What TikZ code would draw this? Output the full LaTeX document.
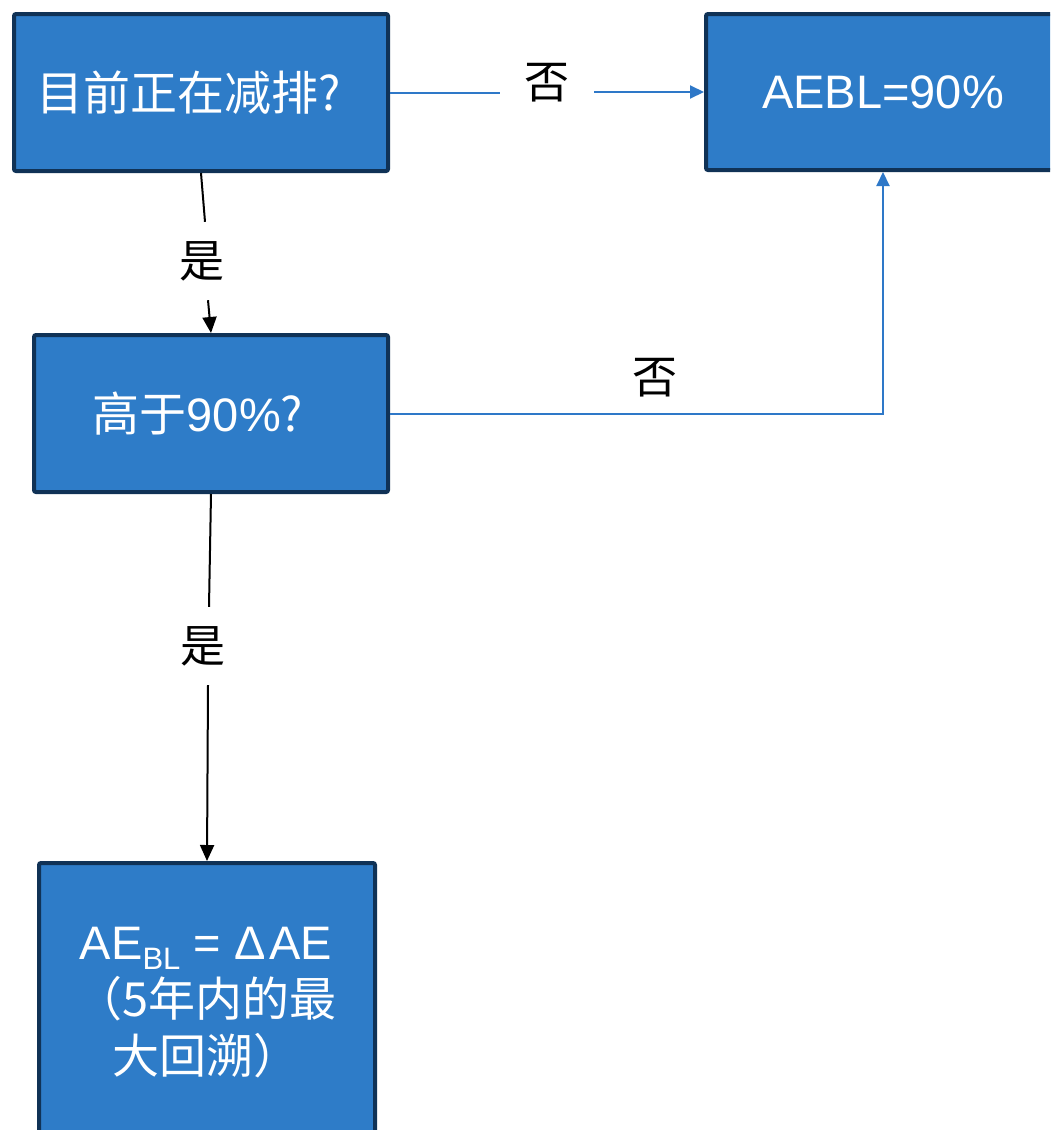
\documentclass[tikz,border=0pt]{standalone}
\usepackage{fontspec}
\setmainfont{Liberation Sans}
\newfontfamily\cjk{Noto Sans CJK SC}
\usetikzlibrary{arrows.meta}
\definecolor{boxfill}{RGB}{46,124,200}
\definecolor{boxline}{RGB}{16,50,86}
\definecolor{linkblue}{RGB}{46,120,200}
\tikzset{
  box/.style={rectangle, rounded corners=2pt, draw=boxline, line width=4pt, fill=boxfill,
    text=white, align=center, inner sep=0pt},
  boxtxt/.style={font=\cjk\fontsize{47}{57}\selectfont},
  lab/.style={font=\cjk\fontsize{45}{45}\selectfont, text=black, inner sep=0pt},
  blk/.style={line width=2pt, draw=black},
  blu/.style={line width=2pt, draw=linkblue},
  tipk/.style={-{Triangle[width=14pt,length=16pt]}},
  tipb/.style={-{Triangle[width=13pt,length=14pt]}}
}
\begin{document}
\begin{tikzpicture}[x=1pt,y=-1pt]
\useasboundingbox (0,0) rectangle (1050,1130);
\clip (0,0) rectangle (1050,1130);
\fill[white] (0,0) rectangle (1050,1130);
% boxes
\node[box, boxtxt, minimum width=374pt, minimum height=157pt] (b1) at (201,92.5) {目前正在减排?\kern24pt};
\node[box, minimum width=354pt, minimum height=156pt, font=\fontsize{47}{47}\selectfont] (b2) at (883,92) {AEBL=90\%};
\node[box, boxtxt, minimum width=354pt, minimum height=157pt] (b3) at (211,413.5) {高于{\rmfamily 90\%}?\kern26pt};
\node[box, minimum width=336pt, minimum height=330pt, anchor=north] (b4) at (207,861) {};
\node[text=white, align=center, inner sep=0pt, font=\fontsize{47}{57}\selectfont] (t4) at (206,1003)
  {AE\raisebox{-10pt}{\fontsize{31}{31}\selectfont BL} = Δ\kern4pt AE\\
   {\cjk （5年内的最}\\
   {\cjk 大回溯）}};
% labels
\node[lab, minimum width=94pt] (l1) at (547,83) {否};
\node[lab, minimum height=78pt] (l2) at (202,261) {是};
\node[lab] (l3) at (655,378) {否};
\node[lab, minimum height=78pt] (l4) at (203,646) {是};
% connectors
\draw[blu] (b1.east) -- (b1.east -| l1.west);
\draw[blu, tipb] (l1.east |- b2.west) -- (b2.west);
\draw[blk] (b1.south) -- ([xshift=3pt]l2.north);
\draw[blk, tipk] ([xshift=6pt]l2.south) -- (b3.north);
\draw[blu, tipb] (b3.east) -- (b3.east -| b2.south) -- (b2.south);
\draw[blk] (b3.south) -- ([xshift=6pt]l4.north);
\draw[blk, tipk] ([xshift=5pt]l4.south) -- (b4.north);
\end{tikzpicture}
\end{document}
